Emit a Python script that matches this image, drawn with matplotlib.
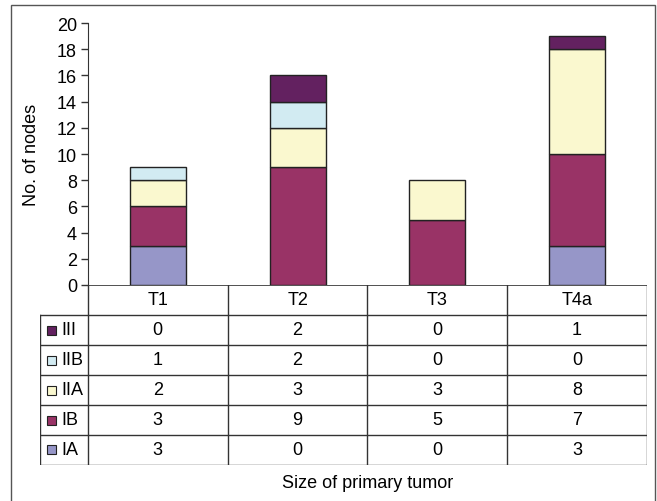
import numpy as np
import matplotlib
matplotlib.use("Agg")
import matplotlib.pyplot as plt
from matplotlib.patches import Rectangle

plt.rcParams['font.family'] = ['Liberation Sans', 'DejaVu Sans']

# tumour size groups and lymph node counts per stage
sizes = ["T1", "T2", "T3", "T4a"]
stages = ["IA", "IB", "IIA", "IIB", "III"]
node_ia = [3, 0, 0, 3]
node_ib = [3, 9, 5, 7]
node_iia = [2, 3, 3, 8]
node_iib = [1, 2, 0, 0]
node_iii = [0, 2, 0, 1]
stage_colors = ["#9696c8", "#993366", "#faf8cf", "#d2ebf2", "#632160"]

counts = [node_ia, node_ib, node_iia, node_iib, node_iii]
fs = 13

W, H = 657, 502
fig = plt.figure(figsize=(W / 100, H / 100), dpi=100)

def box(x0, y0, x1, y1):
    # pixel box (top-left origin) -> figure fraction rect
    return [x0 / W, 1 - y1 / H, (x1 - x0) / W, (y1 - y0) / H]

# outer frame
fig.patches.append(Rectangle((11 / W, -0.05), (655 - 11) / W, 1.05 - 6 / H,
                             transform=fig.transFigure, fill=False,
                             edgecolor="#555555", lw=1.0))

ax = fig.add_axes(box(88, 24, 647, 286))
xpos = np.arange(len(sizes)) + 0.5
bottom = np.zeros(len(sizes))
for name, vals, col in zip(stages, counts, stage_colors):
    vals = np.array(vals)
    # empty segments get no outline
    lws = [1.0 if v > 0 else 0.0 for v in vals]
    ax.bar(xpos, vals, width=0.4, bottom=bottom, color=col,
           edgecolor="#222222", linewidth=lws, label=name)
    bottom += vals

ax.set_xlim(0, 4)
ax.set_ylim(0, 20)
ax.set_yticks(range(0, 21, 2))
ax.set_xticks([])
ax.tick_params(axis="y", labelsize=fs, length=5, width=1, color="#333333", pad=3)
ax.set_ylabel("No. of nodes", fontsize=fs, labelpad=12)
for s in ["top", "right", "bottom"]:
    ax.spines[s].set_visible(False)
ax.spines["left"].set_color("#333333")

# data table under the bars
lab_w = 48 / 140
tab = fig.add_axes(box(40, 286, 647, 466))
tab.set_xlim(-lab_w, 4)
tab.set_ylim(6, 0)
tab.axis("off")
lc = "#333333"
# horizontal rules
tab.plot([0, 4], [0, 0], color=lc, lw=1.2)
for r in range(1, 7):
    tab.plot([-lab_w, 4], [r, r], color=lc, lw=1.0)
# vertical rules
tab.plot([-lab_w, -lab_w], [1, 6], color=lc, lw=1.0)
for c in range(0, 5):
    tab.plot([c, c], [0, 6], color=lc, lw=1.0)

for c, name in enumerate(sizes):
    tab.text(c + 0.5, 0.5, name, ha="center", va="center", fontsize=fs)

for r, i in enumerate(range(len(stages) - 1, -1, -1)):
    y = r + 1.5
    sw = 9 / 140
    tab.add_patch(Rectangle((-lab_w + 7 / 140, y - 4.5 / 30), sw, 9 / 30,
                            facecolor=stage_colors[i], edgecolor="#222222", lw=0.8))
    tab.text(-lab_w + 21 / 140, y, stages[i], ha="left", va="center", fontsize=fs)
    for c in range(len(sizes)):
        tab.text(c + 0.5, y, str(counts[i][c]), ha="center", va="center", fontsize=fs)

fig.text(368 / W, 1 - 484 / H, "Size of primary tumor", ha="center", va="center",
         fontsize=fs)

fig.savefig("out.png", dpi=100)
